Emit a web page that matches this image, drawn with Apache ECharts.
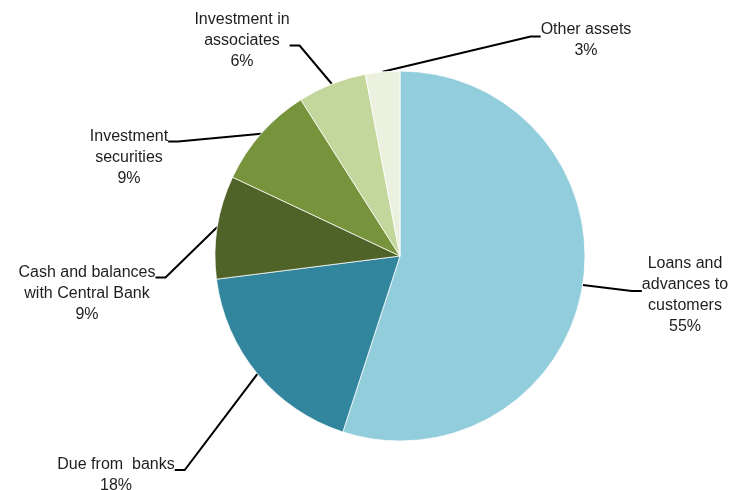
<!DOCTYPE html>
<html>
<head>
<meta charset="utf-8">
<script src="https://cdn.jsdelivr.net/npm/echarts@6/dist/echarts.min.js"></script>
<style>
html,body{margin:0;padding:0;background:#fff;}
#chart{width:746px;height:490px;}
</style>
</head>
<body>
<div id="chart"></div>
<script>
// Data
var categories = [
  'Loans and\nadvances to\ncustomers',
  'Due from  banks',
  'Cash and balances\nwith Central Bank',
  'Investment\nsecurities',
  'Investment in\nassociates',
  'Other assets'
];
var values = [55, 18, 9, 9, 6, 3];

// Styles / layout (kept separate from data)
var colors = ['#92CDDC', '#31859C', '#4F6228', '#77933C', '#C3D69B', '#EBF1DE'];
// label box centre
var labelAnchors = [
  [685, 290],
  [116, 468],
  [87, 264],
  [129, 128],
  [242, 47],
  [586, 36]
];
// spacer height (positive: above the text, negative: below the text)
var labelSpacers = [10, 14, 60, 60, -12, 8];

var rich = { t: { fontFamily: 'Liberation Sans', fontSize: 16, lineHeight: 21, color: '#1e1e1e', align: 'center' } };
labelSpacers.forEach(function (s) {
  rich['s' + Math.abs(s)] = { fontSize: 1, lineHeight: Math.abs(s) };
});

var chart = echarts.init(document.getElementById('chart'));
var option = {
  backgroundColor: '#ffffff',
  animation: false,
  series: [{
    type: 'pie',
    center: [400, 256],
    radius: 185,
    startAngle: 90,
    clockwise: true,
    avoidLabelOverlap: false,
    itemStyle: { borderColor: '#ffffff', borderWidth: 0.75 },
    label: {
      show: true,
      position: 'outside',
      formatter: function (p) {
        var lines = (p.name + '\n' + p.value + '%').split('\n').map(function (l) { return '{t|' + l + '}'; });
        var s = labelSpacers[p.dataIndex];
        var sp = '{s' + Math.abs(s) + '| }';
        if (s > 0) lines.unshift(sp); else if (s < 0) lines.push(sp);
        return lines.join('\n');
      },
      rich: rich,
      align: 'center'
    },
    labelLine: {
      show: true,
      length: 20,
      length2: 10,
      minTurnAngle: 0,
      lineStyle: { color: '#000000', width: 2 }
    },
    labelLayout: function (params) {
      var c = labelAnchors[params.dataIndex];
      return { x: c[0], y: c[1], align: 'center', verticalAlign: 'middle' };
    },
    emphasis: { disabled: true },
    data: categories.map(function (n, i) {
      return { name: n, value: values[i], itemStyle: { color: colors[i] } };
    })
  }]
};
chart.setOption(option);
</script>
</body>
</html>
